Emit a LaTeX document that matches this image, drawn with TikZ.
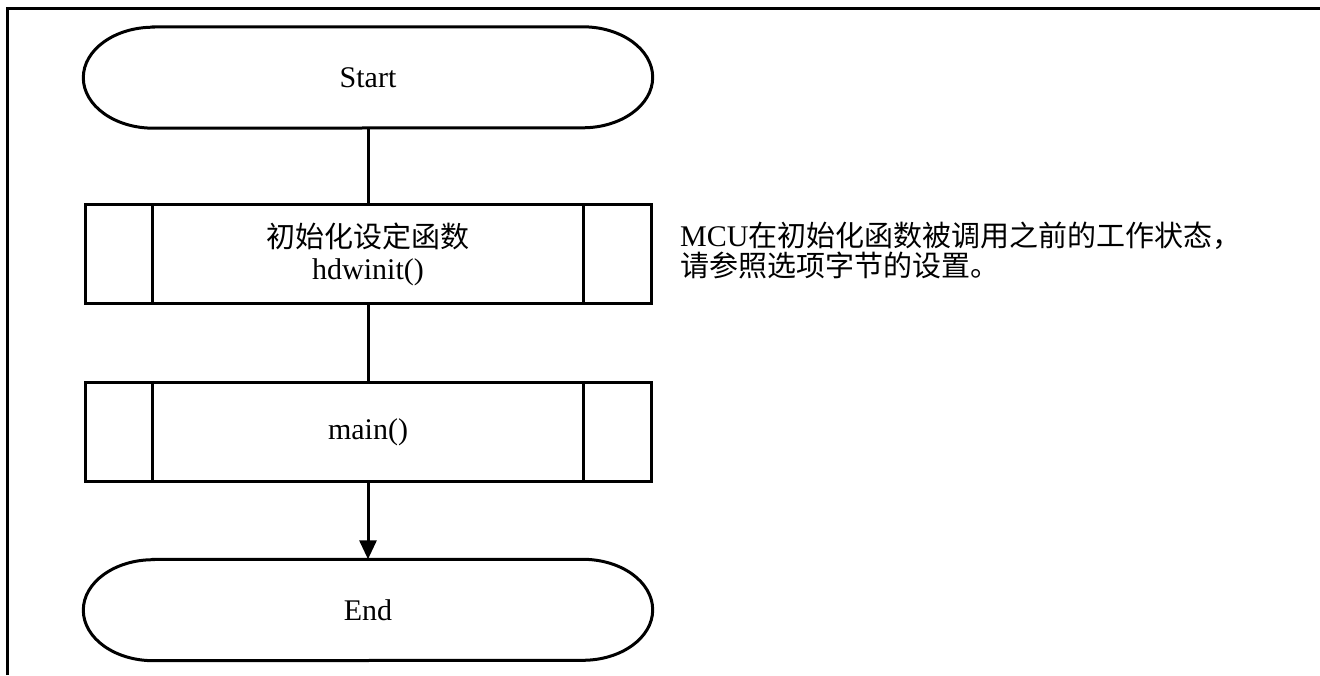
\documentclass[tikz,border=0pt]{standalone}
\usepackage{fontspec}
\setmainfont{Liberation Serif}
\newfontfamily\cjk{Noto Sans CJK SC}
\usetikzlibrary{calc,arrows.meta}
\begin{document}
\begin{tikzpicture}[x=1pt,y=1pt,
  every node/.style={font=\fontsize{30}{31}\selectfont},
  frame/.style={line width=3pt},
  ln/.style={line width=3pt},
  termbox/.style={minimum width=569pt,minimum height=101pt,inner sep=0pt},
  procbox/.style={draw,line width=3pt,minimum width=566pt,minimum height=99pt,inner sep=0pt,align=center},
  flow/.style={line width=3pt}
]
\useasboundingbox (0,0) rectangle (1320,675);
% outer frame: left and top edges
\draw[frame] (7,0) |- (1320,666);

% nodes
\node[termbox] (start) at (368,597.5) {Start};
\node[procbox] (init) at (368,420.5) {{\cjk\fontsize{29}{31}\selectfont 初始化设定函数}\\[1pt]hdwinit()};
\node[procbox] (mainf) at (368,243) {main()};
\node[termbox] (fin) at (368,65) {End};
\node[anchor=west,align=left,inner sep=0pt,font=\fontsize{29}{30}\selectfont] (note) at (680,425)
  {{\fontsize{30}{30}\selectfont MCU}{\cjk 在初始化函数被调用之前的工作状态，}\\{\cjk 请参照选项字节的设置。}};

% terminator outlines
\foreach \t in {start,fin}{
  \draw[ln] ($(\t.north west)+(70,0)$) -- ($(\t.north east)+(-70,0)$)
    arc[start angle=90,end angle=-90,x radius=70,y radius=50.5]
    -- ($(\t.south west)+(70,0)$)
    arc[start angle=270,end angle=90,x radius=70,y radius=50.5] -- cycle;
}
% predefined-process side bars
\foreach \b in {init,mainf}{
  \draw[ln] ($(\b.north west)+(69,0)$) -- ($(\b.south west)+(69,0)$);
  \draw[ln] ($(\b.north east)+(-69,0)$) -- ($(\b.south east)+(-69,0)$);
}

% connectors
\draw[flow] (start.south) -- (init.north);
\draw[flow] (init.south) -- (mainf.north);
\draw[flow,-{Triangle[width=17pt,length=19pt]}] (mainf.south) -- (fin.north);
\end{tikzpicture}
\end{document}
